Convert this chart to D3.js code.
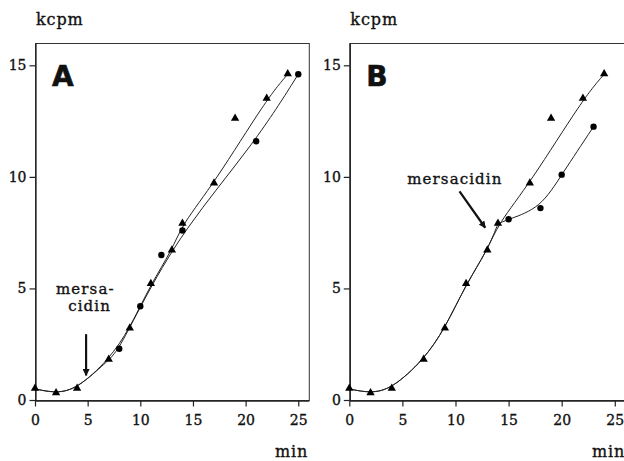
<!DOCTYPE html>
<html>
<head>
<meta charset="utf-8">
<script src="https://cdn.jsdelivr.net/npm/d3@7"></script>
<style>
  html, body { margin: 0; padding: 0; background: #fff; }
  svg { display: block; }
  text { fill: #111; }
</style>
</head>
<body>
<svg id="chart" width="624" height="461"></svg>
<script>
// ---------------- data ----------------
const xTicks = [0, 5, 10, 15, 20, 25];
const yTicks = [0, 5, 10, 15];
const yLabel = "kcpm";
const xLabel = "min";

// control (triangles) – same in both panels
const triTime  = [0, 2, 4, 7, 9, 11, 13, 14, 17, 19, 22, 24];
const triValue = [0.5, 0.3, 0.5, 1.8, 3.2, 5.2, 6.7, 7.9, 9.7, 12.6, 13.5, 14.6];
const triOutliers = [19];              // not on the fitted curve

// Panel A – mersacidin added at ~5 min (circles)
const circATime  = [8, 10, 12, 14, 21, 25];
const circAValue = [2.3, 4.2, 6.5, 7.6, 11.6, 14.6];
const circAOutliers = [12];
const branchATime = 7;                 // circle curve shares control until here

// Panel B – mersacidin added at ~13 min (circles)
const circBTime  = [15, 18, 20, 23];
const circBValue = [8.1, 8.6, 10.1, 12.25];
const circBOutliers = [];
const branchBTime = 14;

// annotations (data coordinates)
const annotA = { lines: ["mersa-", "cidin"], pos: [[2.0, 4.74], [3.15, 3.98]],
                 arrow: [[4.85, 2.95], [4.85, 1.1]] };
const annotB = { lines: ["mersacidin"], pos: [[5.46, 9.7]],
                 arrow: [[10.38, 9.35], [12.8, 7.72]] };

// ---------------- drawing ----------------
const svg = d3.select("#chart");
const FONT = "'DejaVu Serif', serif";

const defs = svg.append("defs");
defs.append("marker")
  .attr("id", "ah").attr("viewBox", "0 0 10 10")
  .attr("refX", 9).attr("refY", 5)
  .attr("markerWidth", 3.2).attr("markerHeight", 3.2)
  .attr("markerUnits", "strokeWidth")
  .attr("orient", "auto")
  .append("path").attr("d", "M0,0 L10,5 L0,10 Z").attr("fill", "#111");

const zip = (t, v) => t.map((d, i) => ({ t: d, v: v[i] }));
const serif = (sel, size, ls) => sel.attr("font-family", FONT).attr("font-size", size)
  .attr("letter-spacing", ls).attr("stroke", "#111").attr("stroke-width", 0.35);

function panel(cfg) {
  const x = d3.scaleLinear().domain([0, 26]).range(cfg.xRange);
  const y = d3.scaleLinear().domain([0, 16]).range([400, 43]);
  const g = svg.append("g");

  // frame
  const [x0, x1] = x.range();
  g.append("rect")
    .attr("x", x0 + 0.5).attr("y", 43.5)
    .attr("width", x1 - x0).attr("height", 400 - 43)
    .attr("fill", "none").attr("stroke", "#333").attr("stroke-width", 1);

  // axes
  const xa = g.append("g").attr("transform", "translate(0,400.5)")
    .call(d3.axisBottom(x).tickValues(xTicks).tickSize(6).tickPadding(5).tickSizeOuter(0));
  const ya = g.append("g").attr("transform", `translate(${x0 + 0.5},0)`)
    .call(d3.axisLeft(y).tickValues(yTicks).tickSize(6).tickPadding(3).tickSizeOuter(0));
  [xa, ya].forEach(a => {
    a.select(".domain").attr("stroke", "#222").attr("stroke-width", 1.3);
    a.selectAll(".tick line").attr("stroke", "#222").attr("stroke-width", 1.2);
    serif(a.selectAll(".tick text"), 14, 0).attr("fill", "#111");
  });
  xa.selectAll(".tick text").attr("dy", "0.95em");

  // axis titles
  serif(g.append("text").attr("x", x0 + 1).attr("y", 25), 16, 0.9).text(yLabel);
  serif(g.append("text").attr("x", cfg.minX).attr("y", 457), 16, 0.9).text(xLabel);

  // panel letter
  g.append("text").attr("x", x0 + 17).attr("y", 86)
    .attr("font-family", "'DejaVu Sans', sans-serif").attr("font-weight", "bold")
    .attr("font-size", 28).attr("stroke", "#111").attr("stroke-width", 0.6)
    .text(cfg.letter);

  // curves (smoothed fits through the measured points)
  const line = d3.line().x(d => x(d.t)).y(d => y(d.v)).curve(d3.curveBasis);
  const tri = zip(triTime, triValue);
  const triFit = tri.filter(d => !triOutliers.includes(d.t));
  const circ = zip(cfg.circTime, cfg.circValue);
  const shared = tri.filter(d => d.t <= cfg.branch);
  const branchPt = shared[shared.length - 1];
  const circFit = shared.concat([branchPt])
    .concat(circ.filter(d => !cfg.circOut.includes(d.t)));

  [triFit, circFit].forEach(pts => {
    g.append("path").attr("d", line(pts))
      .attr("fill", "none").attr("stroke", "#222").attr("stroke-width", 1);
  });

  // markers
  const triSym = d3.symbol().type(d3.symbolTriangle).size(30);
  g.selectAll(".tri").data(tri).join("path")
    .attr("transform", d => `translate(${x(d.t)},${y(d.v) - 0.5})`)
    .attr("d", triSym).attr("fill", "#000");
  g.selectAll(".circ").data(circ).join("circle")
    .attr("cx", d => x(d.t)).attr("cy", d => y(d.v)).attr("r", 3.2).attr("fill", "#000");

  // annotation
  const a = cfg.annot;
  a.lines.forEach((s, i) => {
    serif(g.append("text").attr("x", x(a.pos[i][0])).attr("y", y(a.pos[i][1])), 15, 1.1).text(s);
  });
  g.append("line")
    .attr("x1", x(a.arrow[0][0])).attr("y1", y(a.arrow[0][1]))
    .attr("x2", x(a.arrow[1][0])).attr("y2", y(a.arrow[1][1]))
    .attr("stroke", "#111").attr("stroke-width", 2.2)
    .attr("marker-end", "url(#ah)");
}

panel({ letter: "A", xRange: [35, 308.8], minX: 275,
        circTime: circATime, circValue: circAValue, circOut: circAOutliers,
        branch: branchATime, annot: annotA });
panel({ letter: "B", xRange: [349.3, 625.4], minX: 592,
        circTime: circBTime, circValue: circBValue, circOut: circBOutliers,
        branch: branchBTime, annot: annotB });
</script>
</body>
</html>
